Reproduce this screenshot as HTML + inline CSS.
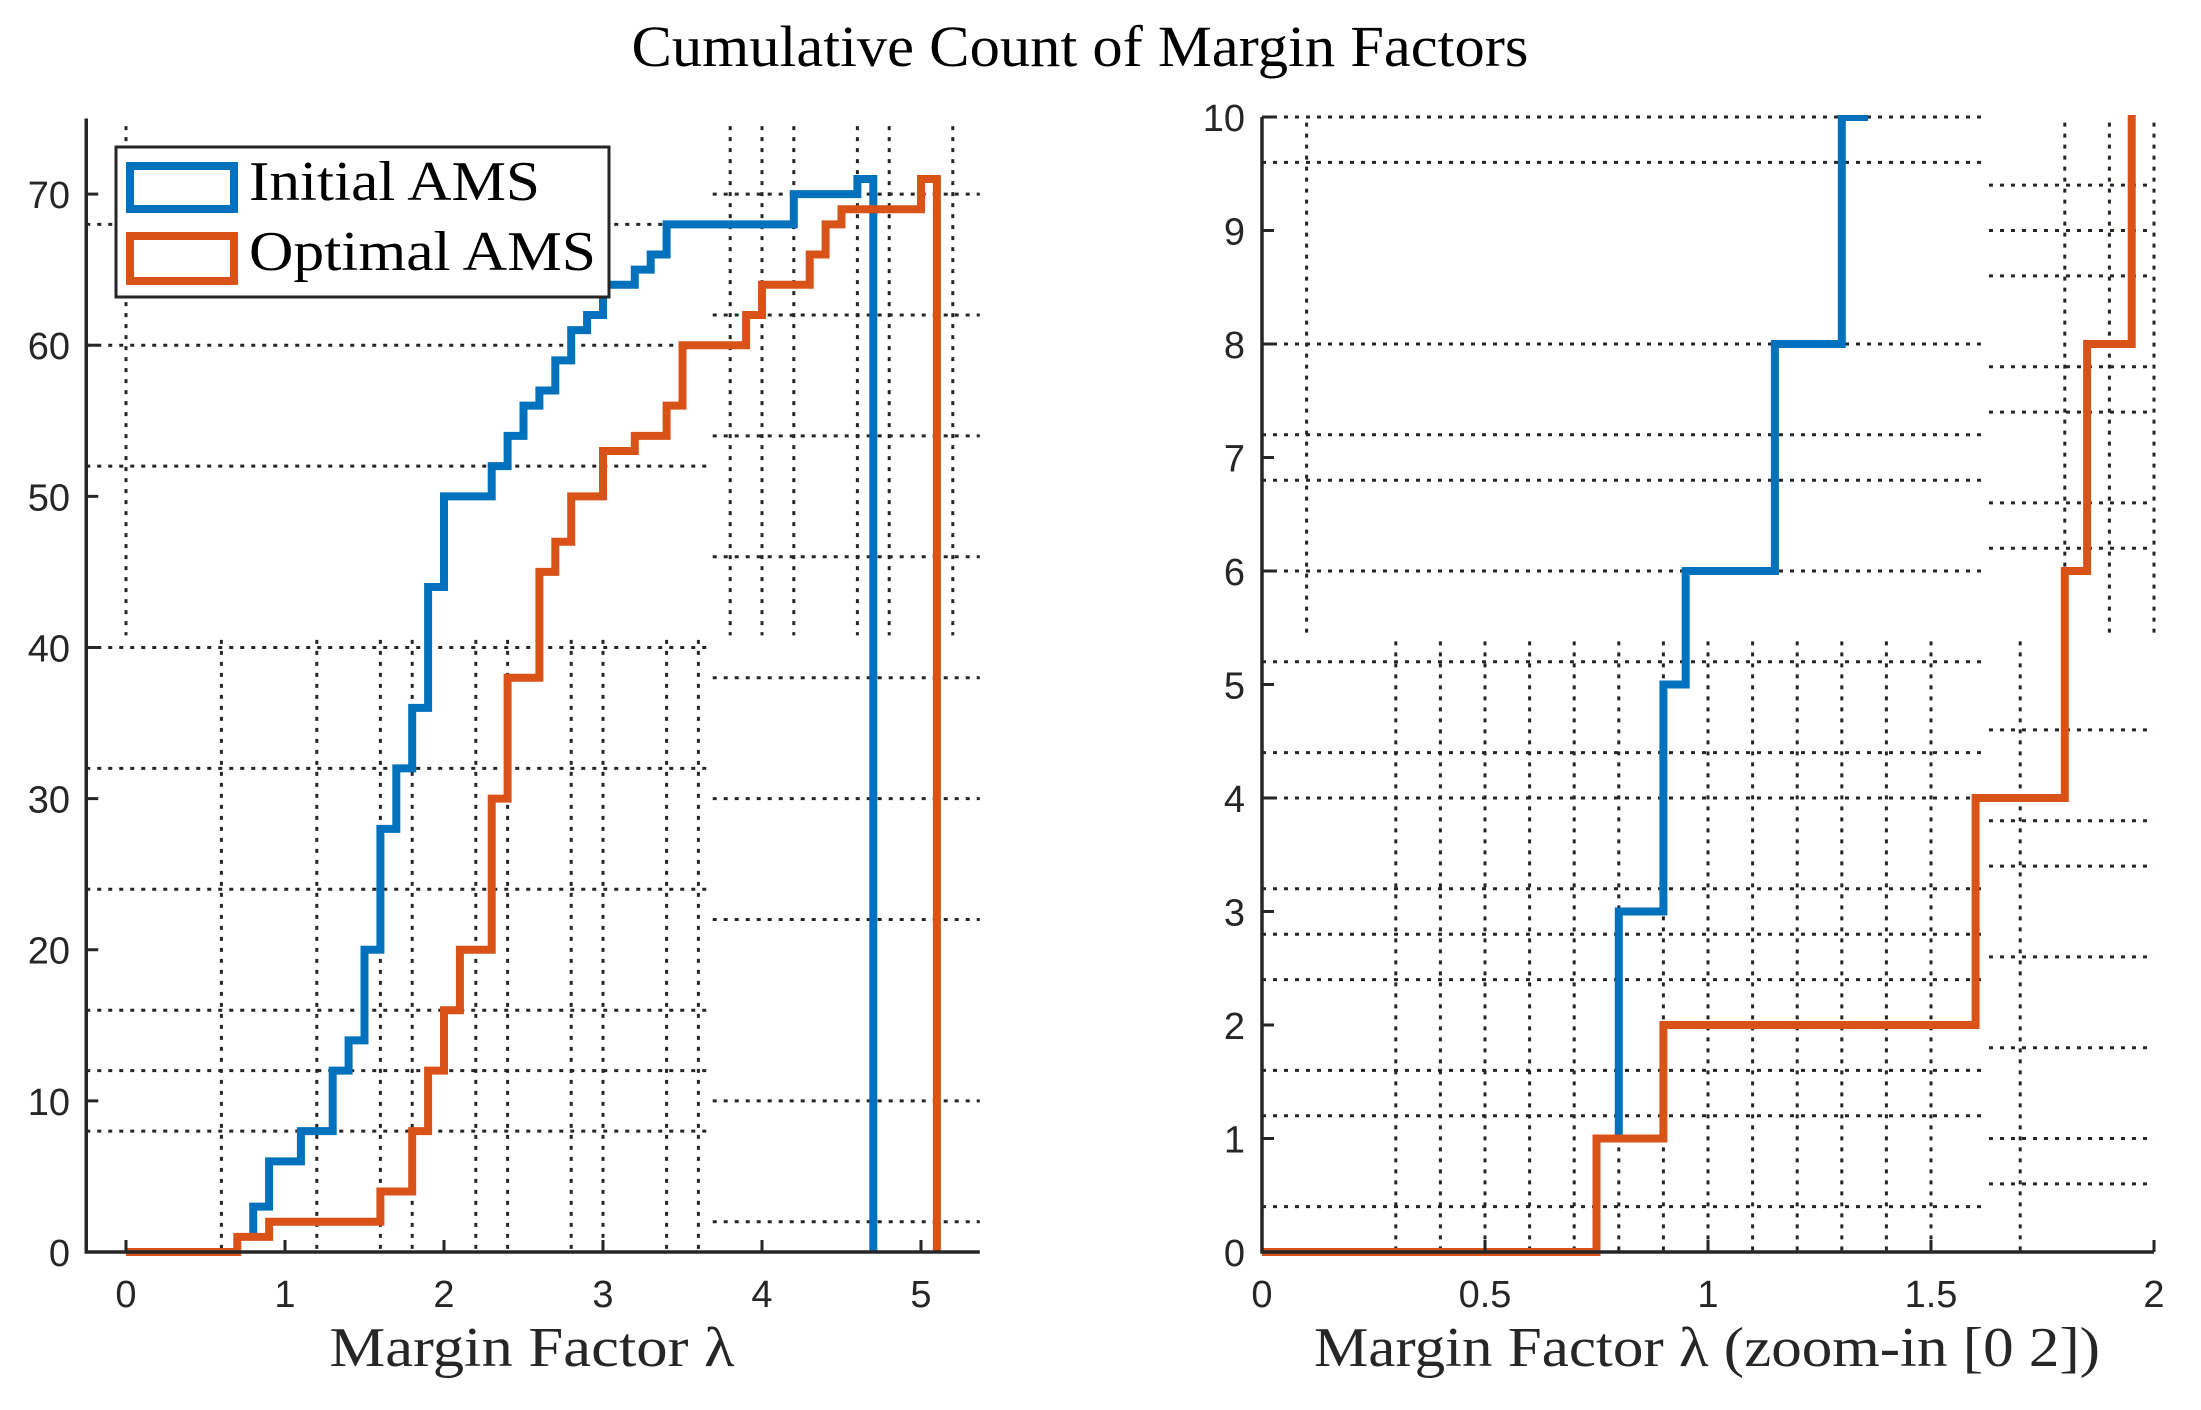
<!DOCTYPE html>
<html><head><meta charset="utf-8"><style>
html,body{margin:0;padding:0;background:#fff;}
svg{display:block;}
</style></head><body>
<svg id="fig" xmlns="http://www.w3.org/2000/svg" width="2201" height="1410" viewBox="0 0 2201 1410">
<rect width="2201" height="1410" fill="#fff"/>
<text x="1080" y="66" text-anchor="middle" font-family="Liberation Serif, serif" font-size="58" textLength="897" lengthAdjust="spacingAndGlyphs" fill="#000">Cumulative Count of Margin Factors</text>
<g id="left"></g>
<g id="right"></g>
</svg>
<script>
// Left chart data (stairs): x edges and cumulative counts
const initX = [0.8,0.9,1.1,1.3,1.4,1.5,1.6,1.7,1.8,1.9,2.0,2.3,2.4,2.5,2.6,2.7,2.8,2.9,3.0,3.2,3.3,3.4,4.2,4.6,4.7];
const initY = [3,6,8,12,14,20,28,32,36,44,50,52,54,56,57,59,61,62,64,65,66,68,70,71,0];
const optX = [0,0.7,0.9,1.6,1.8,1.9,2.0,2.1,2.3,2.4,2.6,2.7,2.8,3.0,3.2,3.4,3.5,3.9,4.0,4.3,4.4,4.5,5.0,5.1];
const optY = [0,1,2,4,8,12,16,20,30,38,45,47,50,53,54,56,60,62,64,66,68,69,71,0];
const leftXTicks = [0,1,2,3,4,5];
const leftYTicks = [0,10,20,30,40,50,60,70];
// Right chart (zoom-in) data
const zInitX = [0.8,0.9,0.95,1.15,1.3,1.35];
const zInitY = [3,5,6,8,10,12];
const zOptX = [0,0.75,0.9,1.6,1.8,1.85,1.95,2.0];
const zOptY = [0,1,2,4,6,8,12,12];
const rightXTicks = [0,0.5,1,1.5,2];
const rightXTickLabels = ["0","0.5","1","1.5","2"];
const rightYTicks = [0,1,2,3,4,5,6,7,8,9,10];

const NS="http://www.w3.org/2000/svg";
const AX="#262626", BLUE="#0072BD", ORANGE="#D95319";
function mk(tag,attrs,parent){const e=document.createElementNS(NS,tag);for(const k in attrs)e.setAttribute(k,attrs[k]);parent.appendChild(e);return e;}

// ---------- LEFT ----------
const L=document.getElementById('left');
const lx=v=>126+v*159, ly=v=>1252-v*15.113;
const lxMin=-0.25,lxMax=5.37,lyMax=75;
const gridL=mk('g',{},L);


const dot={stroke:AX,'stroke-width':3,'stroke-dasharray':'4 7',fill:'none'};
function hline(g,x1,x2,y){const e=mk('line',Object.assign({x1:x1,x2:x2,y1:y,y2:y},dot),g);}
function vline(g,x,y1,y2){const e=mk('line',Object.assign({x1:x,x2:x,y1:y1,y2:y2},dot),g);}
[8,12,16,24,32,40,52,60,68].forEach(v=>hline(gridL,lx(lxMin),lx(3.66),ly(v)));
[2,10,22,30,38,46,54,62,70].forEach(v=>hline(gridL,lx(3.69),lx(lxMax),ly(v)));
[0.6,1.2,1.6,1.8,2.2,2.4,2.8,3.0,3.4,3.6].forEach(v=>vline(gridL,lx(v),ly(40.5),ly(0)));
[0,3.8,4.0,4.2,4.6,4.8,5.2].forEach(v=>vline(gridL,lx(v),ly(74.5),ly(40.8)));

function stairs(g,xs,ys,fx,fy,color,name,startY){
  let d='M'+fx(xs[0])+' '+fy(startY);
  for(let i=0;i<xs.length;i++){
    d+=' L'+fx(xs[i])+' '+fy(ys[i]);
    if(i+1<xs.length) d+=' L'+fx(xs[i+1])+' '+fy(ys[i]);
  }
  const p=mk('path',{d:d,stroke:color,'stroke-width':8,fill:'none','stroke-linejoin':'miter','stroke-linecap':'butt'},g);
  
  
  return p;
}
stairs(L,initX,initY,lx,ly,BLUE,'initial-ams-line',1);
stairs(L,optX,optY,lx,ly,ORANGE,'optimal-ams-line',0);

const la=mk('path',{d:`M${lx(lxMin)} ${ly(lyMax)} L${lx(lxMin)} ${ly(0)} L${lx(lxMax)} ${ly(0)}`,stroke:AX,'stroke-width':3.5,fill:'none'},L);


leftXTicks.forEach(v=>{
  mk('line',{x1:lx(v),x2:lx(v),y1:ly(0),y2:ly(0)-12,stroke:AX,'stroke-width':3},L);
  const t=mk('text',{x:lx(v),y:1307,'text-anchor':'middle','font-family':'Liberation Sans, sans-serif','font-size':38,fill:AX},L);
  t.textContent=String(v);
  
  
});
leftYTicks.forEach(v=>{
  mk('line',{x1:lx(lxMin),x2:lx(lxMin)+12,y1:ly(v),y2:ly(v),stroke:AX,'stroke-width':3},L);
  const t=mk('text',{x:70,y:ly(v)+14,'text-anchor':'end','font-family':'Liberation Sans, sans-serif','font-size':38,fill:AX},L);
  t.textContent=String(v);
  
  
});
const lxl=mk('text',{x:532,y:1366,'text-anchor':'middle','font-family':'Liberation Serif, serif','font-size':56,textLength:405,lengthAdjust:'spacingAndGlyphs',fill:AX},L);
lxl.textContent='Margin Factor λ';



const lg=mk('g',{},L);


mk('rect',{x:116,y:147,width:493,height:150,fill:'#fff',stroke:AX,'stroke-width':3},lg);
const e1=mk('g',{},lg);


mk('rect',{x:130,y:166,width:104,height:43,fill:'none',stroke:BLUE,'stroke-width':8},e1);
const t1=mk('text',{x:249,y:200,'font-family':'Liberation Serif, serif','font-size':56,textLength:291,lengthAdjust:'spacingAndGlyphs',fill:'#000'},e1);
t1.textContent='Initial AMS';
const e2=mk('g',{},lg);


mk('rect',{x:130,y:236,width:104,height:45,fill:'none',stroke:ORANGE,'stroke-width':8},e2);
const t2=mk('text',{x:249,y:270,'font-family':'Liberation Serif, serif','font-size':56,textLength:347,lengthAdjust:'spacingAndGlyphs',fill:'#000'},e2);
t2.textContent='Optimal AMS';

// ---------- RIGHT ----------
const R=document.getElementById('right');
const rx=v=>1262+v*446, ry=v=>1252-v*113.5;
const gridR=mk('g',{},R);


[0.4,1.2,1.6,2.4,2.8,3.2,4.0,4.4,5.2,6.0,6.8,7.2,8.0,9.6,10].forEach(v=>hline(gridR,rx(0),rx(1.62),ry(v)));
[0.6,1.0,1.8,2.6,3.4,3.8,4.6,6.2,6.6,7.4,7.8,8.6,9.0,9.4].forEach(v=>hline(gridR,rx(1.63),rx(2),ry(v)));
[0.3,0.4,0.5,0.6,0.7,0.8,0.9,1.0,1.1,1.2,1.3,1.4,1.5,1.7].forEach(v=>vline(gridR,rx(v),ry(5.38),ry(0)));
[0.1,1.8,1.9,2.0].forEach(v=>vline(gridR,rx(v),ry(9.95),ry(5.44)));

const clip=mk('clipPath',{id:'rclip'},R);
mk('rect',{x:rx(0)-10,y:ry(10)-2,width:rx(2)-rx(0)+20,height:ry(0)-ry(10)+12},clip);
const rg=mk('g',{'clip-path':'url(#rclip)'},R);
stairs(rg,zInitX,zInitY,rx,ry,BLUE,'zoom-initial-ams-line',1);
stairs(rg,zOptX,zOptY,rx,ry,ORANGE,'zoom-optimal-ams-line',0);

const ra=mk('path',{d:`M${rx(0)} ${ry(10)} L${rx(0)} ${ry(0)} L${rx(2)} ${ry(0)}`,stroke:AX,'stroke-width':3.5,fill:'none'},R);


rightXTicks.forEach((v,i)=>{
  mk('line',{x1:rx(v),x2:rx(v),y1:ry(0),y2:ry(0)-12,stroke:AX,'stroke-width':3},R);
  const t=mk('text',{x:rx(v),y:1307,'text-anchor':'middle','font-family':'Liberation Sans, sans-serif','font-size':38,fill:AX},R);
  t.textContent=rightXTickLabels[i];
  
  
});
rightYTicks.forEach(v=>{
  mk('line',{x1:rx(0),x2:rx(0)+12,y1:ry(v),y2:ry(v),stroke:AX,'stroke-width':3},R);
  const t=mk('text',{x:1245,y:ry(v)+14,'text-anchor':'end','font-family':'Liberation Sans, sans-serif','font-size':38,fill:AX},R);
  t.textContent=String(v);
  
  
});
const rxl=mk('text',{x:1707,y:1366,'text-anchor':'middle','font-family':'Liberation Serif, serif','font-size':56,textLength:786,lengthAdjust:'spacingAndGlyphs',fill:AX},R);
rxl.textContent='Margin Factor λ (zoom-in [0 2])';


</script>
</body></html>
